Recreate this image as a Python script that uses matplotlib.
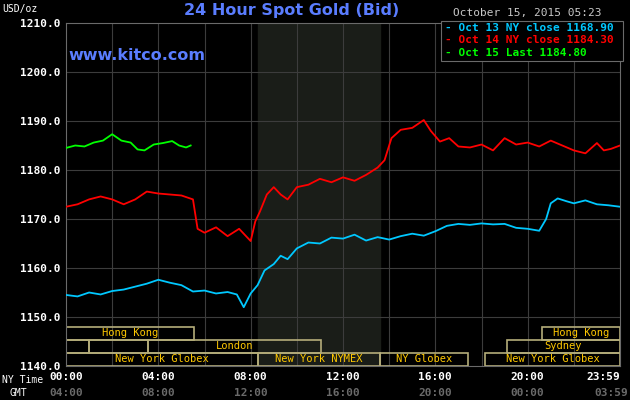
import matplotlib
matplotlib.use("Agg")
import matplotlib.pyplot as plt
from matplotlib.patches import Rectangle

# hours since 00:00 NY time
blue_h = [0, 0.5, 1, 1.5, 2, 2.5, 3, 3.5, 4, 4.5, 5, 5.5, 6, 6.5, 7, 7.4, 7.7, 8, 8.3, 8.6, 9, 9.3, 9.6,
          10, 10.5, 11, 11.5, 12, 12.5, 13, 13.5, 14, 14.5, 15, 15.5, 16, 16.5, 17, 17.5, 18, 18.5, 19,
          19.5, 20, 20.5, 20.8, 21, 21.3, 21.7, 22, 22.5, 23, 23.5, 24]
blue_v = [1154.5, 1154.2, 1155.0, 1154.6, 1155.3, 1155.6, 1156.2, 1156.8, 1157.6, 1157.0, 1156.5, 1155.2,
          1155.4, 1154.8, 1155.1, 1154.6, 1152.0, 1154.8, 1156.5, 1159.5, 1160.8, 1162.5, 1161.8,
          1164.0, 1165.2, 1165.0, 1166.2, 1166.0, 1166.8, 1165.6, 1166.3, 1165.8, 1166.5, 1167.0, 1166.6,
          1167.5, 1168.6, 1169.0, 1168.8, 1169.1, 1168.9, 1169.0, 1168.2, 1168.0, 1167.6, 1170.0, 1173.2,
          1174.2, 1173.6, 1173.2, 1173.8, 1173.0, 1172.8, 1172.5]
red_h = [0, 0.5, 1, 1.5, 2, 2.5, 3, 3.5, 4, 4.5, 5, 5.5, 5.7, 6, 6.5, 7, 7.5, 8, 8.2, 8.4, 8.7, 9, 9.3,
         9.6, 10, 10.5, 11, 11.5, 12, 12.5, 13, 13.5, 13.8, 14.1, 14.5, 15, 15.5, 15.8, 16.2, 16.6, 17,
         17.5, 18, 18.5, 19, 19.5, 20, 20.5, 21, 21.5, 22, 22.5, 23, 23.3, 23.6, 24]
red_v = [1172.5, 1173.0, 1174.0, 1174.6, 1174.0, 1173.0, 1174.0, 1175.6, 1175.2, 1175.0, 1174.8, 1174.0,
         1168.0, 1167.2, 1168.3, 1166.5, 1168.0, 1165.5, 1169.5, 1171.5, 1175.0, 1176.5, 1175.0,
         1174.0, 1176.5, 1177.0, 1178.2, 1177.5, 1178.5, 1177.8, 1179.0, 1180.5, 1182.0, 1186.5, 1188.2,
         1188.6, 1190.2, 1188.0, 1185.8, 1186.5, 1184.8, 1184.6, 1185.2, 1184.0, 1186.5, 1185.2, 1185.6,
         1184.8, 1186.0, 1185.0, 1184.0, 1183.4, 1185.5, 1184.0, 1184.3, 1185.0]
green_h = [0, 0.4, 0.8, 1.2, 1.6, 2.0, 2.4, 2.8, 3.1, 3.4, 3.8, 4.2, 4.6, 4.9, 5.2, 5.4]
green_v = [1184.5, 1185.0, 1184.8, 1185.6, 1186.0, 1187.3, 1186.0, 1185.6, 1184.2, 1184.0, 1185.2,
           1185.5, 1185.9, 1185.0, 1184.6, 1185.0]

legend_labels = ["Oct 13 NY close 1168.90", "Oct 14 NY close 1184.30", "Oct 15 Last 1184.80"]
ny_ticks = ["00:00", "04:00", "08:00", "12:00", "16:00", "20:00", "23:59"]
gmt_ticks = ["04:00", "08:00", "12:00", "16:00", "20:00", "00:00", "03:59"]
yticks = [1140, 1150, 1160, 1170, 1180, 1190, 1200, 1210]

# sessions: (row, start, end, label)
sessions = [
    (2, 0, 5.55, "Hong Kong"), (2, 20.6, 24, "Hong Kong"),
    (1, 0, 1.0, ""), (1, 1.0, 3.55, ""), (1, 3.55, 11.05, "London"), (1, 19.1, 24, "Sydney"),
    (0, 0, 8.3, "New York Globex"), (0, 8.3, 13.6, "New York NYMEX"),
    (0, 13.6, 17.4, "NY Globex"), (0, 18.15, 24, "New York Globex"),
]

mono = "DejaVu Sans Mono"
fig = plt.figure(figsize=(6.3, 4.0), dpi=100, facecolor="black")
ax = fig.add_axes([66 / 630, 34 / 400, 554 / 630, 343 / 400], facecolor="black")
ax.set_xlim(0, 24)
ax.set_ylim(1140, 1210)

ax.axvspan(8.3, 13.6, color="#1a1d18", zorder=0)
for h in range(2, 24, 2):
    ax.axvline(h, color="#3c3c3c", lw=0.8, zorder=1)
for y in yticks[1:-1]:
    ax.axhline(y, color="#3c3c3c", lw=0.8, zorder=1)

row_y = [1140.0, 1142.7, 1145.3]
row_hgt = 2.7
for row, s, e, lab in sessions:
    ax.add_patch(Rectangle((s, row_y[row]), e - s, row_hgt, fill=False,
                           edgecolor="#b5ad7a", lw=1.2, zorder=2))
    if lab:
        ax.text((s + e) / 2, row_y[row] + row_hgt / 2, lab, color="#ffc800", fontsize=7.5,
                family=mono, ha="center", va="center", zorder=3)

ax.plot(blue_h, blue_v, color="#00c8ff", lw=1.3, zorder=4)
ax.plot(red_h, red_v, color="#ff0000", lw=1.3, zorder=4)
ax.plot(green_h, green_v, color="#00ff00", lw=1.3, zorder=4)

for sp in ax.spines.values():
    sp.set_color("#6a6a6a")
ax.set_yticks(yticks)
ax.set_yticklabels([f"{y:.1f}" for y in yticks], color="white", family=mono,
                   fontsize=8, fontweight="bold")
ax.set_xticks([0, 4, 8, 12, 16, 20, 24])
ax.set_xticklabels(ny_ticks, color="white", family=mono, fontsize=8, fontweight="bold")
ax.get_xticklabels()[-1].set_ha("right")
ax.get_xticklabels()[-1].set_x(24.35)
ax.tick_params(length=0, pad=4)
for x, t in zip([0, 4, 8, 12, 16, 20, 24.35], gmt_ticks):
    ax.text(x, -0.08, t, transform=ax.get_xaxis_transform(),
            ha="right" if t == "03:59" else "center", va="center",
            color="#6a6a6a", family=mono, fontsize=8, fontweight="bold")

fig.text(2 / 630, 1 - 380 / 400, "NY Time", color="white", family=mono, fontsize=7, va="center")
fig.text(10 / 630, 1 - 393 / 400, "GMT", color="white", family=mono, fontsize=7, va="center")
fig.text(2 / 630, 1 - 9 / 400, "USD/oz", color="white", family=mono, fontsize=7, va="center")

fig.text(292 / 630, 1 - 11 / 400, "24 Hour Spot Gold (Bid)", color="#5a7dff",
         fontsize=11.5, fontweight="bold", ha="center", va="center")
fig.text(453 / 630, 1 - 13 / 400, "October 15, 2015 05:23", color="#c8c8c8", family=mono,
         fontsize=8, va="center")
ax.text(0.005, 0.905, "www.kitco.com", transform=ax.transAxes, color="#5a7dff",
        fontsize=11.5, fontweight="bold", va="center")

ax.add_patch(Rectangle((0.676, 0.89), 0.33, 0.115, transform=ax.transAxes, facecolor="black",
                       edgecolor="#6a6a6a", lw=0.8, zorder=5, clip_on=False))
for i, (lab, c) in enumerate(zip(legend_labels, ["#00c8ff", "#ff0000", "#00ff00"])):
    ax.text(0.685, 0.985 - i * 0.036, "- " + lab, transform=ax.transAxes, color=c,
            family=mono, fontsize=8, fontweight="bold", va="center", zorder=6)

fig.savefig("out.png", dpi=100, facecolor="black")
